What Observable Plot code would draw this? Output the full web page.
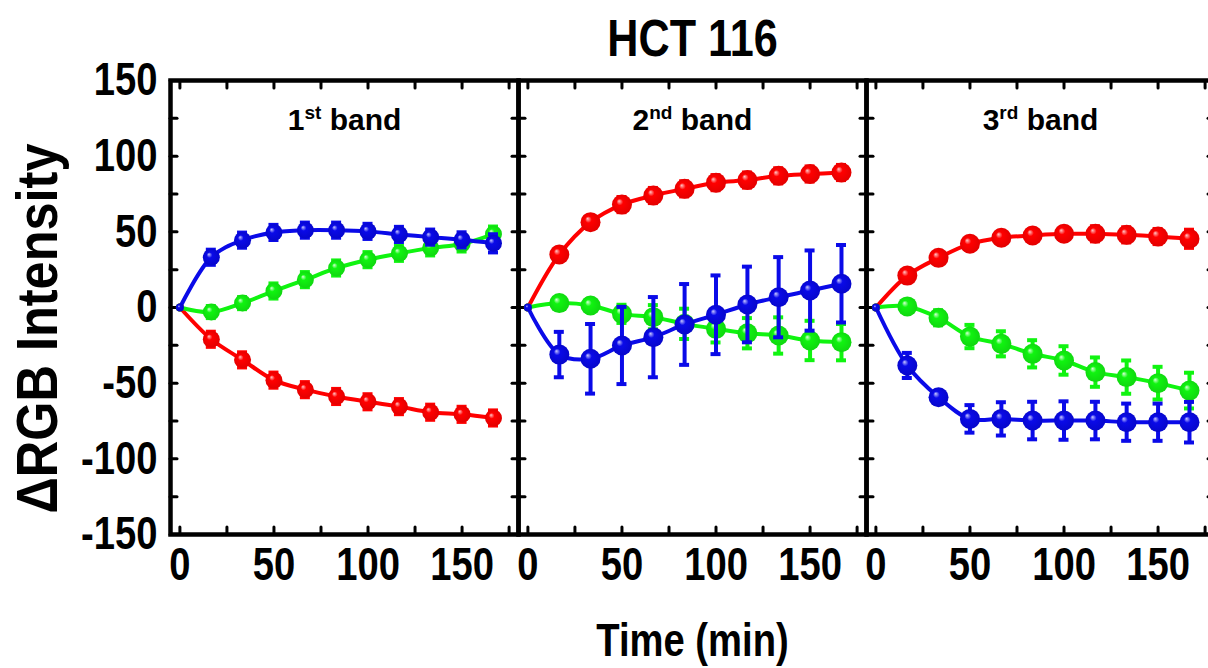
<!DOCTYPE html>
<html>
<head>
<meta charset="utf-8">
<script src="https://cdn.jsdelivr.net/npm/d3@7"></script>
<script src="https://cdn.jsdelivr.net/npm/@observablehq/plot@0.6"></script>
<style>
html, body { margin: 0; padding: 0; background: #fff; overflow: hidden; width: 1208px; height: 668px; }
#chart { width: 1208px; height: 668px; overflow: hidden; }
#chart svg { display: block; max-width: none !important; }
</style>
</head>
<body>
<div id="chart"></div>
<script>
// ---- data ----
const times = [0, 16.7, 33.3, 50, 66.7, 83.3, 100, 116.7, 133.3, 150, 166.7];
const bandNames = ["1st band", "2nd band", "3rd band"];
const titleText = "HCT 116";
const xLabelText = "Time (min)";
const yLabelText = "ΔRGB Intensity";
const xTickLabels = [0, 50, 100, 150];
const xTickMarks = [0, 25, 50, 75, 100, 125, 150, 175];
const yTickLabels = [-150, -100, -50, 0, 50, 100, 150];
const yTickMarks = [-150, -125, -100, -75, -50, -25, 0, 25, 50, 75, 100, 125, 150];

// 1st band
const red1 = [0, -21, -34.6, -48, -54.3, -58.8, -62.3, -65.5, -69.2, -70.6, -73];
const red1Err = [0, 5, 5, 5, 5, 5, 5, 5, 5, 5, 5];
const green1 = [0, -3, 2.9, 10.9, 18.4, 26.1, 31.6, 35.8, 39.4, 42, 48.5];
const green1Err = [0, 4, 4, 5, 5, 5, 5, 5, 5, 5, 5];
const blue1 = [0, 33.2, 44.5, 49.6, 51.1, 51.1, 50.3, 48.3, 46.5, 44.7, 42.4];
const blue1Err = [0, 5, 5, 5, 5, 5, 5, 5, 5, 5, 6];
// 2nd band
const red2 = [0, 35, 56.4, 68, 74, 78.4, 82.5, 84.2, 87, 88.2, 89.2];
const red2Err = [0, 4, 4, 5, 5, 5, 5, 5, 5, 5, 5];
const green2 = [0, 2.9, 1.3, -4.2, -6.4, -10.8, -14.1, -17, -18.5, -21.8, -22.9];
const green2Err = [0, 3, 4, 6, 8, 10, 9, 10, 12, 13, 12];
const blue2 = [0, -31.1, -33.9, -25.1, -19.6, -11.2, -4.8, 2, 6.8, 11.2, 15.7];
const blue2Err = [0, 15, 23, 25.5, 26.5, 26.7, 26, 25, 26.5, 26.5, 25.6];
// 3rd band
const red3 = [0, 21.1, 32.8, 42.1, 46.1, 47.6, 48.7, 48.7, 48, 46.9, 45.4];
const red3Err = [0, 2, 3, 4, 4, 4, 4, 5, 5, 5, 6];
const green3 = [0, 0.7, -6.8, -19.2, -24, -30.6, -35, -42.7, -46, -50, -54.9];
const green3Err = [0, 4, 5, 7.7, 8.3, 9, 9.4, 9.7, 11, 10.8, 11.8];
const blue3 = [0, -38.3, -59.3, -73.6, -73.6, -74.7, -74.7, -74.7, -75.8, -75.8, -75.8];
const blue3Err = [0, 8.3, 4, 9.1, 11, 12.4, 12.7, 12.4, 12.3, 12.3, 13.4];

const seriesList = [
  {band: 1, s: "R", v: red1, e: red1Err}, {band: 1, s: "G", v: green1, e: green1Err}, {band: 1, s: "B", v: blue1, e: blue1Err},
  {band: 2, s: "R", v: red2, e: red2Err}, {band: 2, s: "G", v: green2, e: green2Err}, {band: 2, s: "B", v: blue2, e: blue2Err},
  {band: 3, s: "R", v: red3, e: red3Err}, {band: 3, s: "G", v: green3, e: green3Err}, {band: 3, s: "B", v: blue3, e: blue3Err}
];
const rows = [];
for (const ser of seriesList) {
  times.forEach((t, i) => rows.push({band: ser.band, s: ser.s, t, v: ser.v[i], e: ser.e[i]}));
}

// ---- style ----
const colors = {R: "#ff0000", G: "#10f410", B: "#0a0ae8"};
const light = {R: "#ffc8c8", G: "#d8ffd8", B: "#c8c8ff"};
const dark = {R: "#e00000", G: "#10d410", B: "#0606c8"};
const FONT = "'Liberation Sans', Arial, sans-serif";

const dataMarks = [];
for (const s of ["R", "G", "B"]) {
  const d = rows.filter(r => r.s === s);
  const dn = d.filter(r => r.t > 0);
  dataMarks.push(
    Plot.lineY(d, {x: "t", y: "v", fx: "band", stroke: colors[s], strokeWidth: 4, curve: "catmull-rom"}),
    Plot.ruleX(dn, {x: "t", y1: r => r.v - r.e, y2: r => r.v + r.e, fx: "band", stroke: colors[s], strokeWidth: 4}),
    Plot.ruleY(dn, {x1: "t", x2: "t", y: r => r.v + r.e, fx: "band", stroke: colors[s], strokeWidth: 4, insetLeft: -5, insetRight: -5}),
    Plot.ruleY(dn, {x1: "t", x2: "t", y: r => r.v - r.e, fx: "band", stroke: colors[s], strokeWidth: 4, insetLeft: -5, insetRight: -5}),
    Plot.dot(d, {x: "t", y: "v", fx: "band", r: r => r.t === 0 ? 4 : (r.band === 1 ? 8.5 : 10), fill: `url(#grad${s})`, stroke: "none"})
  );
}

const chart = Plot.plot({
  width: 1214,
  height: 668,
  marginLeft: 170,
  marginRight: 0,
  marginTop: 80,
  marginBottom: 134,
  style: {fontFamily: FONT, fontWeight: "bold", background: "white", color: "black", maxWidth: "none"},
  fx: {domain: [1, 2, 3], padding: 0, axis: null},
  x: {domain: [-5, 180]},
  y: {domain: [-150, 150]},
  r: {type: "identity"},
  marks: [
    Plot.axisY({anchor: "left", ticks: yTickMarks, tickSize: -7, fill: "none", facetAnchor: null, strokeWidth: 3, strokeLinecap: "round", label: null}),
    Plot.axisY({anchor: "right", ticks: yTickMarks, tickSize: -7, fill: "none", facetAnchor: null, strokeWidth: 3, strokeLinecap: "round", label: null}),
    Plot.axisX({anchor: "bottom", ticks: xTickMarks, tickSize: -7, fill: "none", strokeWidth: 3, strokeLinecap: "round", label: null}),
    Plot.axisX({anchor: "top", ticks: xTickMarks, tickSize: -7, fill: "none", strokeWidth: 3, strokeLinecap: "round", label: null}),
    Plot.axisY({anchor: "left", ticks: yTickLabels, tickSize: 0, tickPadding: 13, tickFormat: d => String(d), fontSize: 46, fontWeight: "bold", label: null}),
    Plot.axisX({anchor: "bottom", ticks: xTickLabels, tickSize: 0, tickPadding: 13, tickFormat: d => String(d), fontSize: 46, fontWeight: "bold", label: null}),
    ...dataMarks,
    Plot.frame({stroke: "black", strokeWidth: 4.5}),
    Plot.text(bandNames, {fx: (d, i) => i + 1, text: d => d, frameAnchor: "top", dy: 49, lineAnchor: "bottom", fontSize: 30, fontWeight: "bold", fill: "black"}),
    Plot.text([titleText], {fx: () => 2, text: d => d, frameAnchor: "top", dy: -25, lineAnchor: "bottom", fontSize: 52, fontWeight: "bold", fill: "black"}),
    Plot.text([xLabelText], {fx: () => 2, text: d => d, frameAnchor: "bottom", dy: 121, lineAnchor: "bottom", fontSize: 46, fontWeight: "bold", fill: "black"}),
    Plot.text([yLabelText], {fx: () => 1, text: d => d, frameAnchor: "left", textAnchor: "middle", dx: -132, dy: 21, rotate: -90, fontSize: 58, fontWeight: "bold", fill: "black"})
  ]
});

// gradients for the shaded markers
const NS = "http://www.w3.org/2000/svg";
const defs = document.createElementNS(NS, "defs");
for (const s of ["R", "G", "B"]) {
  const g = document.createElementNS(NS, "radialGradient");
  g.setAttribute("id", `grad${s}`);
  g.setAttribute("cx", "0.5"); g.setAttribute("cy", "0.5"); g.setAttribute("r", "0.55");
  g.setAttribute("fx", "0.35"); g.setAttribute("fy", "0.32");
  [[0, light[s]], [0.3, colors[s]], [1, dark[s]]].forEach(([o, c]) => {
    const st = document.createElementNS(NS, "stop");
    st.setAttribute("offset", o); st.setAttribute("stop-color", c);
    g.appendChild(st);
  });
  defs.appendChild(g);
}
chart.insertBefore(defs, chart.firstChild);

document.getElementById("chart").appendChild(chart);

// narrow the bold sans to a condensed look (band labels keep natural width)
chart.querySelectorAll("text").forEach(t => {
  const txt = t.textContent;
  if (!txt || /band$/.test(txt)) return;
  const f = txt === yLabelText ? 0.87 : 0.83;
  const L = t.getComputedTextLength();
  if (!(L > 0)) return;
  t.setAttribute("textLength", (L * f).toFixed(1));
  t.setAttribute("lengthAdjust", "spacingAndGlyphs");
});

// superscripts in band labels
chart.querySelectorAll("text").forEach(t => {
  const m = /^(\d)(st|nd|rd) (band)$/.exec(t.textContent);
  if (!m) return;
  t.textContent = "";
  t.appendChild(document.createTextNode(m[1]));
  const sup = document.createElementNS(NS, "tspan");
  sup.setAttribute("font-size", "19");
  sup.setAttribute("dy", "-11");
  sup.textContent = m[2];
  t.appendChild(sup);
  const rest = document.createElementNS(NS, "tspan");
  rest.setAttribute("dy", "11");
  rest.textContent = " " + m[3];
  t.appendChild(rest);
});
</script>
</body>
</html>
